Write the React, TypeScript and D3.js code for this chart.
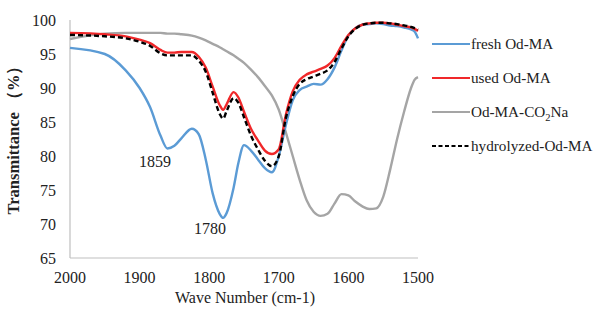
import React from 'react';
import * as d3 from 'd3';

// wave numbers shared by all four spectra (cm-1)
const WAVE = [2000, 1950, 1920, 1900, 1885, 1870, 1860, 1850, 1840, 1825, 1815, 1805, 1795, 1785, 1780, 1775, 1765, 1758, 1750, 1740, 1730, 1720, 1710, 1700, 1690, 1680, 1670, 1660, 1650, 1640, 1630, 1620, 1610, 1600, 1590, 1580, 1570, 1560, 1550, 1540, 1530, 1520, 1510, 1505, 1500];

const FRESH = [95.9, 95.0, 92.6, 90.0, 87.2, 83.0, 81.1, 81.5, 82.6, 84.0, 83.2, 79.5, 74.5, 71.5, 70.9, 71.6, 75.3, 79.0, 81.6, 80.8, 79.5, 78.2, 77.6, 80.0, 84.5, 88.2, 89.7, 90.2, 90.6, 90.5, 91.3, 93.0, 95.5, 97.7, 98.8, 99.3, 99.4, 99.5, 99.4, 99.2, 99.1, 98.9, 98.6, 98.3, 97.3];
const USED = [98.1, 97.9, 97.6, 97.1, 96.6, 95.6, 95.2, 95.2, 95.3, 95.3, 94.6, 93.0, 90.2, 87.5, 86.8, 87.6, 89.4, 88.6, 86.5, 84.0, 82.3, 80.8, 80.3, 81.0, 86.0, 89.5, 91.2, 92.0, 92.4, 92.8, 93.3, 94.4, 96.2, 97.8, 98.8, 99.3, 99.5, 99.6, 99.6, 99.5, 99.3, 99.1, 98.9, 98.7, 98.4];
const SALT = [97.2, 98.0, 98.1, 98.1, 98.1, 98.1, 98.0, 98.0, 97.9, 97.7, 97.4, 97.0, 96.5, 96.0, 95.7, 95.4, 94.8, 94.3, 93.7, 92.7, 91.6, 90.3, 88.9, 86.8, 83.5, 80.0, 76.5, 73.5, 71.8, 71.2, 71.5, 73.0, 74.4, 74.2, 73.3, 72.6, 72.2, 72.3, 74.0, 78.0, 82.5, 86.5, 90.0, 91.2, 91.6];
const HYDRO = [97.8, 97.6, 97.3, 96.8, 96.2, 95.1, 94.8, 94.8, 94.8, 94.8, 94.0, 92.4, 89.3, 86.2, 85.5, 86.6, 88.5, 87.8, 85.7, 83.0, 81.0, 79.3, 78.5, 80.0, 85.5, 88.8, 90.6, 91.3, 91.7, 92.1, 92.6, 93.8, 95.8, 97.6, 98.7, 99.3, 99.5, 99.6, 99.6, 99.5, 99.4, 99.2, 99.0, 98.8, 98.6];

const X_TICKS = [2000, 1900, 1800, 1700, 1600, 1500];
const Y_TICKS = [65, 70, 75, 80, 85, 90, 95, 100];

// peak annotations: where the text sits, in data units
const PEAKS = [
  { label: '1859', wave: 1878, value: 78.4 },
  { label: '1780', wave: 1799, value: 68.5 },
];

const SERIES = [
  { key: 'fresh', name: 'fresh Od-MA', values: FRESH, color: '#5B9BD5', dash: null },
  { key: 'used', name: 'used Od-MA', values: USED, color: '#F0282A', dash: null },
  { key: 'salt', name: 'Od-MA-CO2Na', values: SALT, color: '#A5A5A5', dash: null },
  { key: 'hydro', name: 'hydrolyzed-Od-MA', values: HYDRO, color: '#000000', dash: '5 3' },
];

const W = 598;
const H = 309;
const margin = { top: 20, right: 180, bottom: 51, left: 70 };
const FONT = "'Liberation Serif', 'DejaVu Serif', serif";
const FS = 16;

export default function App() {
  const innerW = W - margin.left - margin.right;
  const innerH = H - margin.top - margin.bottom;

  const x = d3.scaleLinear().domain([2000, 1500]).range([0, innerW]);
  const y = d3.scaleLinear().domain([65, 100]).range([innerH, 0]);

  const line = (vals: number[]) =>
    d3.line<number>()
      .x((_, i) => x(WAVE[i]))
      .y(d => y(d))
      .curve(d3.curveMonotoneX)(vals) || '';

  // draw order: grey underneath, then blue, red, dashed black on top
  const order = ['salt', 'fresh', 'used', 'hydro'];
  const txt = { fontFamily: FONT, fill: '#222' } as React.CSSProperties;

  return (
    <svg width={W} height={H} style={{ position: 'absolute', left: 0, top: 0, background: '#fff', fontFamily: FONT }}>
      <g transform={`translate(${margin.left},${margin.top})`}>
        {/* axes lines */}
        <line x1={0} x2={0} y1={0} y2={innerH} stroke="#BFBFBF" strokeWidth={1.2} />
        <line x1={0} x2={innerW} y1={innerH} y2={innerH} stroke="#BFBFBF" strokeWidth={1.2} />

        {Y_TICKS.map(t => (
          <text key={t} x={-14} y={y(t)} dy="0.35em" textAnchor="end" fontSize={FS} style={txt}>{t}</text>
        ))}
        {X_TICKS.map(t => (
          <text key={t} x={x(t)} y={innerH + 25} textAnchor="middle" fontSize={FS} style={txt}>{t}</text>
        ))}

        {order.map(k => {
          const s = SERIES.find(d => d.key === k)!;
          return (
            <path key={k} d={line(s.values)} fill="none" stroke={s.color}
              strokeWidth={2.4} strokeDasharray={s.dash || undefined} strokeLinejoin="round" />
          );
        })}

        {PEAKS.map(p => (
          <text key={p.label} x={x(p.wave)} y={y(p.value)} textAnchor="middle" fontSize={FS} style={txt}>{p.label}</text>
        ))}

        <text x={innerW / 2 + 1} y={innerH + 45} textAnchor="middle" fontSize={FS} style={txt}>Wave Number (cm-1)</text>
        <text transform={`translate(${-51},${innerH / 2 - 3}) rotate(-90)`} textAnchor="middle" fontSize={16.5} fontWeight="bold" style={txt}>Transmittance （%）</text>
      </g>

      {/* legend */}
      <g transform="translate(432,44)">
        {SERIES.map((s, i) => (
          <g key={s.key} transform={`translate(0,${i * 34})`}>
            <line x1={0} x2={38} y1={0} y2={0} stroke={s.color} strokeWidth={s.dash ? 2 : 2.2} strokeDasharray={s.dash ? '4 2.5' : undefined} />
            <text x={39} y={0} dy="0.35em" fontSize={15.2} style={txt}>
              {s.key === 'salt'
                ? (<>Od-MA-CO<tspan fontSize={10.5} dy={4}>2</tspan><tspan dy={-4}>Na</tspan></>)
                : s.name}
            </text>
          </g>
        ))}
      </g>
    </svg>
  );
}
